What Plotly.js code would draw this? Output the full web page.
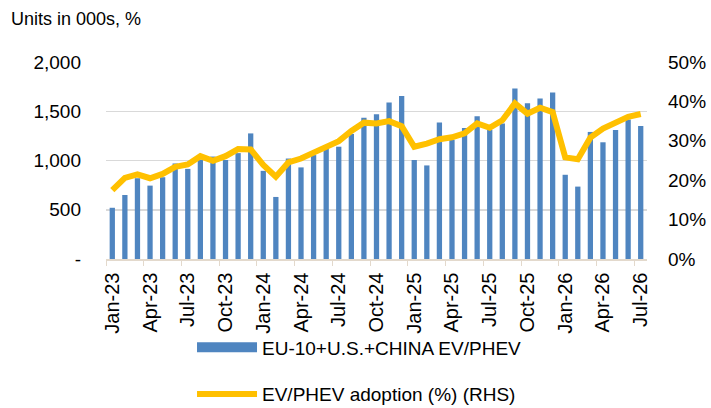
<!DOCTYPE html>
<html>
<head>
<meta charset="utf-8">
<script src="https://cdn.plot.ly/plotly-3.0.1.min.js"></script>
<style>
  html, body { margin: 0; padding: 0; background: #fff; }
  #chart { width: 711px; height: 408px; }
</style>
</head>
<body>
<div id="chart"></div>
<script>
// months Jan-23 .. Jul-26
const months = [
  'Jan-23','Feb-23','Mar-23','Apr-23','May-23','Jun-23','Jul-23','Aug-23','Sep-23','Oct-23','Nov-23','Dec-23',
  'Jan-24','Feb-24','Mar-24','Apr-24','May-24','Jun-24','Jul-24','Aug-24','Sep-24','Oct-24','Nov-24','Dec-24',
  'Jan-25','Feb-25','Mar-25','Apr-25','May-25','Jun-25','Jul-25','Aug-25','Sep-25','Oct-25','Nov-25','Dec-25',
  'Jan-26','Feb-26','Mar-26','Apr-26','May-26','Jun-26','Jul-26'
];

// EV/PHEV units, 000s (left axis)
const units = [
  520, 650, 820, 745, 830, 970, 915, 1010, 1040, 1005, 1075, 1275,
  895, 630, 1020, 930, 1055, 1130, 1140, 1270, 1435, 1470, 1590, 1655,
  1005, 950, 1385, 1210, 1330, 1450, 1310, 1375, 1730, 1580, 1630, 1690,
  855, 735, 1290, 1185, 1310, 1415, 1350
];

// adoption %, right axis
const adoption = [
  17.5, 20.6, 21.5, 20.5, 21.6, 23.4, 24.0, 26.1, 24.9, 26.1, 27.9, 27.8,
  23.9, 20.9, 24.5, 25.5, 27.0, 28.5, 29.9, 32.5, 34.6, 34.4, 35.0, 33.7,
  28.5, 29.3, 30.4, 30.9, 31.9, 34.4, 33.3, 35.2, 39.5, 36.9, 38.4, 37.3,
  25.8, 25.3, 30.8, 33.1, 34.4, 36.1, 36.8
];

const leftTicks = [0, 500, 1000, 1500, 2000];
const leftLabels = ['-', '500', '1,000', '1,500', '2,000'];

const barName = 'EU-10+U.S.+CHINA EV/PHEV';
const lineName = 'EV/PHEV adoption (%) (RHS)';
const barColor = '#4f85c0';

const font = { family: 'Liberation Sans, Arial, sans-serif', size: 19, color: '#000' };

const traces = [
  {
    x: months, y: units, type: 'bar', name: barName,
    marker: { color: barColor }, showlegend: false
  },
  // legend-only entry so the key shows a wide block like the original
  {
    x: [null], y: [null], type: 'scatter', mode: 'lines', name: barName,
    line: { color: barColor, width: 12 }, legendgroup: 'a', hoverinfo: 'skip'
  },
  {
    x: months, y: adoption, type: 'scatter', mode: 'lines', yaxis: 'y2',
    name: lineName,
    line: { color: '#ffc000', width: 6 }, legendgroup: 'b'
  }
];

const layout = {
  width: 711, height: 408,
  margin: { l: 106, r: 64, t: 62, b: 149, autoexpand: false },
  paper_bgcolor: '#fff', plot_bgcolor: '#fff',
  font: font,
  bargap: 0.58,
  showlegend: true,
  legend: {
    orientation: 'v', yref: 'container',
    x: 0.159, xanchor: 'left', y: 0.195, yanchor: 'top',
    traceorder: 'grouped', tracegroupgap: 19, itemwidth: 60,
    bgcolor: 'rgba(0,0,0,0)',
    font: { family: font.family, size: 19, color: '#000' }
  },
  xaxis: {
    type: 'category', tickmode: 'linear', tick0: 0, dtick: 3,
    tickangle: -90, ticks: 'outside', tickson: 'boundaries', ticklen: 5,
    tickcolor: '#e3d9cc', showline: true, linecolor: '#e3d9cc', linewidth: 1.5,
    showgrid: false, tickfont: { family: font.family, size: 20, color: '#000' },
    ticklabelstandoff: 4
  },
  yaxis: {
    range: [0, 2000], tickvals: leftTicks, ticktext: leftLabels,
    showgrid: true, gridcolor: '#d9d9d9', gridwidth: 1.5,
    zeroline: false, showline: false, ticks: '',
    ticklabelstandoff: 24, tickfont: font
  },
  yaxis2: {
    overlaying: 'y', side: 'right', range: [0, 50], dtick: 10,
    ticksuffix: '%', showgrid: false, zeroline: false, showline: false,
    ticks: '', ticklabelstandoff: 20, tickfont: font
  },
  annotations: [{
    text: 'Units in 000s, %', xref: 'paper', yref: 'paper',
    x: -0.18, y: 1.22, xanchor: 'left', yanchor: 'middle', showarrow: false,
    font: { family: font.family, size: 18, color: '#000' }
  }]
};

Plotly.newPlot('chart', traces, layout, { displayModeBar: false, staticPlot: true });
</script>
</body>
</html>
